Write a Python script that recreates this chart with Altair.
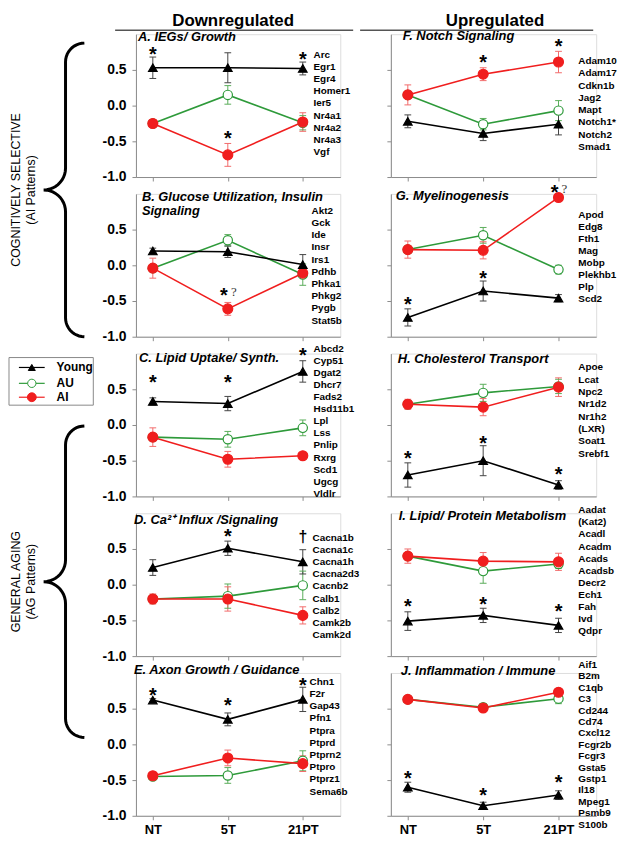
import altair as alt
import pandas as pd
import numpy as np

FONT = "Liberation Sans"
SERIF = "Liberation Serif"
AX = "#8c8c8c"

conditions = ["NT", "5T", "21PT"]
group_names = ["Young", "AU", "AI"]
draw_order = ["AU", "AI", "Young"]

titles = {
    "A": ["A. IEGs/ Growth"],
    "B": ["B. Glucose Utilization, Insulin", "Signaling"],
    "C": ["C. Lipid Uptake/ Synth."],
    "D": ["D. Ca²⁺ Influx /Signaling"],
    "E": ["E. Axon Growth / Guidance"],
    "F": ["F. Notch Signaling"],
    "G": ["G. Myelinogenesis"],
    "H": ["H. Cholesterol Transport"],
    "I": ["I. Lipid/ Protein Metabolism"],
    "J": ["J. Inflammation / Immune"],
}

genes = {
    "A": ["Arc", "Egr1", "Egr4", "Homer1", "Ier5", "Nr4a1", "Nr4a2", "Nr4a3", "Vgf"],
    "B": ["Akt2", "Gck", "Ide", "Insr", "Irs1", "Pdhb", "Phka1", "Phkg2", "Pygb", "Stat5b"],
    "C": ["Abcd2", "Cyp51", "Dgat2", "Dhcr7", "Fads2", "Hsd11b1", "Lpl", "Lss", "Pnlip",
          "Rxrg", "Scd1", "Ugcg", "Vldlr"],
    "D": ["Cacna1b", "Cacna1c", "Cacna1h", "Cacna2d3", "Cacnb2", "Calb1", "Calb2", "Camk2b", "Camk2d"],
    "E": ["Chn1", "F2r", "Gap43", "Pfn1", "Ptpra", "Ptprd", "Ptprn2", "Ptpro", "Ptprz1", "Sema6b"],
    "F": ["Adam10", "Adam17", "Cdkn1b", "Jag2", "Mapt", "Notch1*", "Notch2", "Smad1"],
    "G": ["Apod", "Edg8", "Fth1", "Mag", "Mobp", "Plekhb1", "Plp", "Scd2"],
    "H": ["Apoe", "Lcat", "Npc2", "Nr1d2", "Nr1h2", "\u2002\u2009(LXR)", "Soat1", "Srebf1"],
    "I": ["Aadat", "\u2002(Kat2)", "Acadl", "Acadm", "Acads", "Acadsb", "Decr2", "Ech1", "Fah", "Ivd", "Qdpr"],
    "J": ["Aif1", "B2m", "C1qb", "C3", "Cd244", "Cd74", "Cxcl12", "Fcgr2b", "Fcgr3", "Gsta5",
          "Gstp1", "Il18", "Mpeg1", "Psmb9", "S100b"],
}

# means (NT, 5T, 21PT) and error bar half-lengths
young = {"A": [0.53, 0.53, 0.52], "B": [0.20, 0.19, 0.01], "C": [0.33, 0.30, 0.75],
         "D": [0.24, 0.51, 0.32], "E": [0.62, 0.35, 0.63], "F": [-0.22, -0.39, -0.26],
         "G": [-0.73, -0.36, -0.46], "H": [-0.70, -0.50, -0.84], "I": [-0.51, -0.43, -0.57],
         "J": [-0.60, -0.86, -0.71]}
young_err = {"A": [0.15, 0.21, 0.09], "B": [0.04, 0.08, 0.14], "C": [0.05, 0.10, 0.15],
             "D": [0.11, 0.10, 0.17], "E": [0.02, 0.09, 0.17], "F": [0.09, 0.10, 0.15],
             "G": [0.12, 0.14, 0.05], "H": [0.17, 0.21, 0.06], "I": [0.13, 0.10, 0.10],
             "J": [0.07, 0.05, 0.06]}
au = {"A": [-0.25, 0.15, -0.24], "B": [-0.04, 0.35, -0.13], "C": [-0.17, -0.20, -0.04],
      "D": [-0.20, -0.16, -0.01], "E": [-0.45, -0.435, -0.23], "F": [0.15, -0.26, -0.07],
      "G": [0.22, 0.42, -0.06], "H": [0.29, 0.45, 0.54], "I": [0.40, 0.19, 0.29],
      "J": [0.63, 0.52, 0.64]}
au_err = {"A": [0.03, 0.13, 0.10], "B": [0.05, 0.08, 0.15], "C": [0.05, 0.11, 0.11],
          "D": [0.05, 0.17, 0.20], "E": [0.04, 0.11, 0.14], "F": [0.05, 0.08, 0.14],
          "G": [0.05, 0.11, 0.06], "H": [0.05, 0.12, 0.10], "I": [0.05, 0.17, 0.06],
          "J": [0.03, 0.05, 0.07]}
ai = {"A": [-0.25, -0.69, -0.23], "B": [-0.04, -0.61, -0.11], "C": [-0.17, -0.48, -0.43],
      "D": [-0.20, -0.20, -0.43], "E": [-0.44, -0.19, -0.27], "F": [0.15, 0.44, 0.61],
      "G": [0.22, 0.21, 0.95], "H": [0.29, 0.25, 0.53], "I": [0.40, 0.33, 0.32],
      "J": [0.63, 0.51, 0.73]}
ai_err = {"A": [0.03, 0.16, 0.13], "B": [0.14, 0.09, 0.05], "C": [0.13, 0.11, 0.03],
          "D": [0.07, 0.17, 0.12], "E": [0.05, 0.11, 0.11], "F": [0.14, 0.09, 0.15],
          "G": [0.12, 0.12, 0.05], "H": [0.07, 0.12, 0.13], "I": [0.10, 0.12, 0.12],
          "J": [0.03, 0.03, 0.04]}

# significance marks: panel, condition index, y value, symbol
marks = [
    ("A", 0, 0.78, "*"), ("A", 1, -0.40, "*"), ("A", 2, 0.71, "*"),
    ("B", 1, -0.36, "*?"),
    ("C", 0, 0.65, "*"), ("C", 1, 0.65, "*"), ("C", 2, 1.03, "*"),
    ("D", 1, 0.73, "*"), ("D", 2, 0.67, "†"),
    ("E", 0, 0.75, "*"), ("E", 1, 0.61, "*"), ("E", 2, 0.89, "*"),
    ("F", 1, 0.67, "*"), ("F", 2, 0.89, "*"),
    ("G", 0, -0.49, "*"), ("G", 1, -0.125, "*"), ("G", 2, 1.08, "*?"),
    ("H", 0, -0.41, "*"), ("H", 1, -0.20, "*"), ("H", 2, -0.63, "*"),
    ("I", 0, -0.25, "*"), ("I", 1, -0.21, "*"), ("I", 2, -0.32, "*"),
    ("J", 0, -0.41, "*"), ("J", 1, -0.65, "*"), ("J", 2, -0.47, "*"),
]

headers = ["Downregulated", "Upregulated"]
side_labels = ["COGNITIVELY SELECTIVE", "(AI Patterns)", "GENERAL AGING", "(AG Patterns)"]

# ---------------- layout (pixels) ----------------
PW_L, PW_R, PH = 206, 207, 144
ROW_GAP, COL_GAP = 17, 51
STEP = PH + ROW_GAP
XDOM = [-0.225, 2.5]
title_pos = {"A": (2, 3), "B": (6, 3), "C": (3, 4), "D": (-2, 7), "E": (-2, -3),
             "F": (12, 2), "G": (5, 2), "H": (7, 5), "I": (8, 3), "J": (10, -2)}
gene_pos = {"A": (179, 21, 12.2), "B": (177, 17, 12.3), "C": (179, -5, 12.2),
            "D": (178, 25, 12.2), "E": (175, 9, 12.3), "F": (189, 27, 12.4),
            "G": (189, 21, 12.2), "H": (189, 14, 12.4), "I": (189, -3, 12.2),
            "J": (189, -8, 11.5)}

line_colors = ["#000000", "#2e9a3a", "#f01e1e"]
err_colors = ["#444444", "#5aad5a", "#f26b6b"]
fill_colors = ["#000000", "#ffffff", "#f01e1e"]
shapes = ["triangle-up", "circle", "circle"]

label_expr_x = "[" + ",".join("'%s'" % c for c in conditions) + "][datum.value]"
label_expr_y = ("datum.value < 0 ? '-' + format(abs(datum.value), '.1f') : "
                "format(datum.value, '.1f')")


def xenc(field, show):
    return alt.X(f"{field}:Q", scale=alt.Scale(domain=XDOM, nice=False, zero=False),
                 axis=alt.Axis(values=[0, 1, 2], labelExpr=label_expr_x, labels=show,
                               title=None, grid=False, tickSize=4, domainColor=AX,
                               tickColor=AX, labelFontSize=13, labelFontWeight="bold",
                               labelColor="black", labelPadding=4, labelFont=FONT))


def yenc(field, show):
    return alt.Y(f"{field}:Q", scale=alt.Scale(domain=[-1, 1], nice=False, zero=False),
                 axis=alt.Axis(values=[-1, -0.5, 0, 0.5], labelExpr=label_expr_y,
                               labels=show, title=None, grid=False, tickSize=4,
                               domainColor=AX, tickColor=AX, labelFontSize=14,
                               labelFontWeight="bold", labelColor="black",
                               labelPadding=6, labelFont=FONT))


def panel_df(p):
    recs = []
    src = {"Young": (young, young_err), "AU": (au, au_err), "AI": (ai, ai_err)}
    for g in draw_order:
        m, e = src[g]
        for i, c in enumerate(conditions):
            recs.append(dict(group=g, ci=i, cond=c, mean=m[p][i],
                             lo=m[p][i] - e[p][i], hi=m[p][i] + e[p][i]))
    return pd.DataFrame(recs)


one = pd.DataFrame({"k": [0]})


def make_panel(p, col, bottom):
    df = panel_df(p)
    sy = col == 0
    ecol = alt.Color("group:N", scale=alt.Scale(domain=group_names, range=err_colors), legend=None)
    err = alt.Chart(df).mark_rule(strokeWidth=1).encode(
        x=xenc("ci", bottom), y=yenc("lo", sy), y2="hi", color=ecol)
    caps = alt.Chart(df).transform_fold(["lo", "hi"], as_=["k", "cy"]).transform_calculate(
        cx1="datum.ci - 0.045", cx2="datum.ci + 0.045").mark_rule(strokeWidth=1).encode(
        x=xenc("cx1", bottom), x2="cx2:Q", y=yenc("cy", sy), color=ecol)
    layers = [err, caps]
    for g in draw_order:
        layers.append(alt.Chart(df).transform_filter(alt.datum.group == g).mark_line(
            strokeWidth=1.6).encode(
            x=xenc("ci", bottom), y=yenc("mean", sy),
            stroke=alt.Stroke("group:N", scale=alt.Scale(domain=group_names, range=line_colors),
                              legend=None),
            order="ci:Q"))
    pts = alt.Chart(df).mark_point(filled=True, opacity=1, strokeWidth=1.2).encode(
        x=xenc("ci", bottom), y=yenc("mean", sy),
        shape=alt.Shape("group:N", scale=alt.Scale(domain=group_names, range=shapes), legend=None),
        fill=alt.Fill("group:N", scale=alt.Scale(domain=group_names, range=fill_colors),
                      legend=None),
        stroke=alt.Stroke("group:N", scale=alt.Scale(domain=group_names, range=line_colors),
                          legend=None),
        size=alt.Size("group:N", scale=alt.Scale(domain=group_names, range=[75, 100, 110]),
                      legend=None))
    layers.append(pts)

    mk = [m for m in marks if m[0] == p]
    plain = pd.DataFrame([dict(ci=m[1], y=m[2]) for m in mk if m[3] == "*"])
    query = pd.DataFrame([dict(ci=m[1], y=m[2]) for m in mk if m[3] == "*?"])
    dag = pd.DataFrame([dict(ci=m[1], y=m[2], t=m[3]) for m in mk if m[3] == "†"])
    if len(plain):
        layers.append(alt.Chart(plain).mark_text(
            text="*", fontSize=20, fontWeight="bold", baseline="alphabetic", dy=11, font=FONT,
            color="black").encode(x=xenc("ci", bottom), y=yenc("y", sy)))
    if len(query):
        layers.append(alt.Chart(query).mark_text(
            text="*", fontSize=20, fontWeight="bold", baseline="alphabetic", dy=11, dx=-4,
            font=FONT, color="black").encode(x=xenc("ci", bottom), y=yenc("y", sy)))
        layers.append(alt.Chart(query).mark_text(
            text="?", fontSize=13, baseline="middle", dx=6, dy=1, font=SERIF,
            color="#333333").encode(x=xenc("ci", bottom), y=yenc("y", sy)))
    if len(dag):
        layers.append(alt.Chart(dag).mark_text(
            fontSize=16, fontWeight="bold", baseline="alphabetic", dy=5, font=FONT,
            color="black").encode(x=xenc("ci", bottom), y=yenc("y", sy), text="t:N"))

    tx, ty = title_pos[p]
    tstyle = dict(align="left", baseline="top", fontSize=13, fontWeight="bold",
                  fontStyle="italic", font=FONT, color="black")
    for li, line in enumerate(titles[p]):
        layers.append(alt.Chart(one).mark_text(**tstyle).encode(
            x=alt.value(tx), y=alt.value(ty - 6 + 14 * li), text=alt.value(line)))
    gx, gy, gl = gene_pos[p]
    layers.append(alt.Chart(one).mark_text(
        align="left", baseline="top", fontSize=10, fontWeight="bold", font=FONT,
        lineHeight=gl, color="black").encode(
        x=alt.value(gx), y=alt.value(gy - 5), text=alt.value(genes[p])))

    if p in ("A", "F"):
        h = headers[0] if p == "A" else headers[1]
        hx = 98 if p == "A" else 105
        ux = (-21, 219) if p == "A" else (-31, 204)
        layers.append(alt.Chart(one).mark_text(
            align="center", baseline="top", fontSize=17, fontWeight="bold", font=FONT,
            color="black").encode(x=alt.value(hx), y=alt.value(-21), text=alt.value(h)))
        layers.append(alt.Chart(one).mark_rule(color="#555555", strokeWidth=1.5).encode(
            x=alt.value(ux[0]), x2=alt.value(ux[1]), y=alt.value(-4)))
    return alt.layer(*layers)


# ---------------- left decorations (pixel coords relative to panel A) ----------------
IX = lambda f: alt.X(f"{f}:Q", scale=None, axis=None)
IY = lambda f: alt.Y(f"{f}:Q", scale=None, axis=None)


def brace(y0, y1, xv, xt, xh, bid):
    ym = (y0 + y1) / 2
    r = xh - xv
    r2 = xv - xt
    pts = []
    for th in np.linspace(90, 180, 12):
        t = np.radians(th)
        pts.append((xh + r * np.cos(t), y0 + r - r * np.sin(t)))
    for th in np.linspace(0, -90, 12):
        t = np.radians(th)
        pts.append((xt + r2 * np.cos(t), ym - r2 - r2 * np.sin(t)))
    for th in np.linspace(90, 0, 12):
        t = np.radians(th)
        pts.append((xt + r2 * np.cos(t), ym + r2 - r2 * np.sin(t)))
    for th in np.linspace(180, 270, 12):
        t = np.radians(th)
        pts.append((xh + r * np.cos(t), y1 - r - r * np.sin(t)))
    return pd.DataFrame({"x": [q[0] for q in pts], "y": [q[1] for q in pts],
                         "o": list(range(len(pts))), "b": bid})


def decor_layers():
    b1 = (9, STEP + PH)
    b2 = (2 * STEP + 73, 4 * STEP + 65)
    braces = pd.concat([brace(b1[0], b1[1], -71, -93, -52, "cs"),
                        brace(b2[0], b2[1], -71, -93, -52, "ga")])
    out = [alt.Chart(braces).mark_line(color="black", strokeWidth=3).encode(
        x=IX("x"), y=IY("y"), order="o:Q", detail="b:N")]
    c1 = (b1[0] + b1[1]) / 2
    c2 = (b2[0] + b2[1]) / 2
    main_df = pd.DataFrame({"t": [side_labels[0], side_labels[2]], "x": [-121, -121], "y": [c1, c2]})
    sub_df = pd.DataFrame({"t": [side_labels[1], side_labels[3]], "x": [-106, -106], "y": [c1, c2]})
    out.append(alt.Chart(main_df).mark_text(
        angle=270, fontSize=12.5, font=FONT, color="black").encode(
        x=IX("x"), y=IY("y"), text="t:N"))
    out.append(alt.Chart(sub_df).mark_text(
        angle=270, fontSize=12.5, font=FONT, color="black").encode(
        x=IX("x"), y=IY("y"), text="t:N"))
    ly = 2 * STEP
    box = pd.DataFrame({"x": [-128], "x2": [-43], "y": [ly + 4], "y2": [ly + 52]})
    out.append(alt.Chart(box).mark_rect(fill="white", stroke="#888888", strokeWidth=1).encode(
        x=IX("x"), x2="x2:Q", y=IY("y"), y2="y2:Q"))
    leg_y = [ly + 14, ly + 30, ly + 44]
    sizes = [50, 70, 80]
    for i, g in enumerate(group_names):
        d = pd.DataFrame({"x": [-118], "x2": [-92], "xm": [-105], "xl": [-80],
                          "y": [leg_y[i]], "t": [g]})
        out.append(alt.Chart(d).mark_rule(color=line_colors[i], strokeWidth=1.2).encode(
            x=IX("x"), x2="x2:Q", y=IY("y")))
        out.append(alt.Chart(d).mark_point(
            shape=shapes[i], filled=True, fill=fill_colors[i], stroke=line_colors[i],
            strokeWidth=1, size=sizes[i], opacity=1).encode(x=IX("xm"), y=IY("y")))
        out.append(alt.Chart(d).mark_text(
            align="left", baseline="middle", fontSize=12, fontWeight="bold", font=FONT,
            color="black").encode(x=IX("xl"), y=IY("y"), text="t:N"))
    return out


# ---------------- grid ----------------
order_ids = ["A", "F", "B", "G", "C", "H", "D", "I", "E", "J"]
panels = []
for idx, p in enumerate(order_ids):
    col = idx % 2
    bottom = idx >= 8
    lay = make_panel(p, col, bottom)
    if p == "A":
        lay = alt.layer(lay, *decor_layers()).resolve_scale(x="independent", y="independent")
    panels.append(lay.properties(width=PW_L if col == 0 else PW_R, height=PH))

chart = alt.concat(*panels, columns=2, spacing={"row": ROW_GAP, "column": COL_GAP},
                   bounds="flush").properties(
    padding={"left": 0, "top": 0, "right": 0, "bottom": 0}
).configure_view(stroke=None).configure(font=FONT)

chart.save("out.html", embed_options={"renderer": "svg", "actions": False})
